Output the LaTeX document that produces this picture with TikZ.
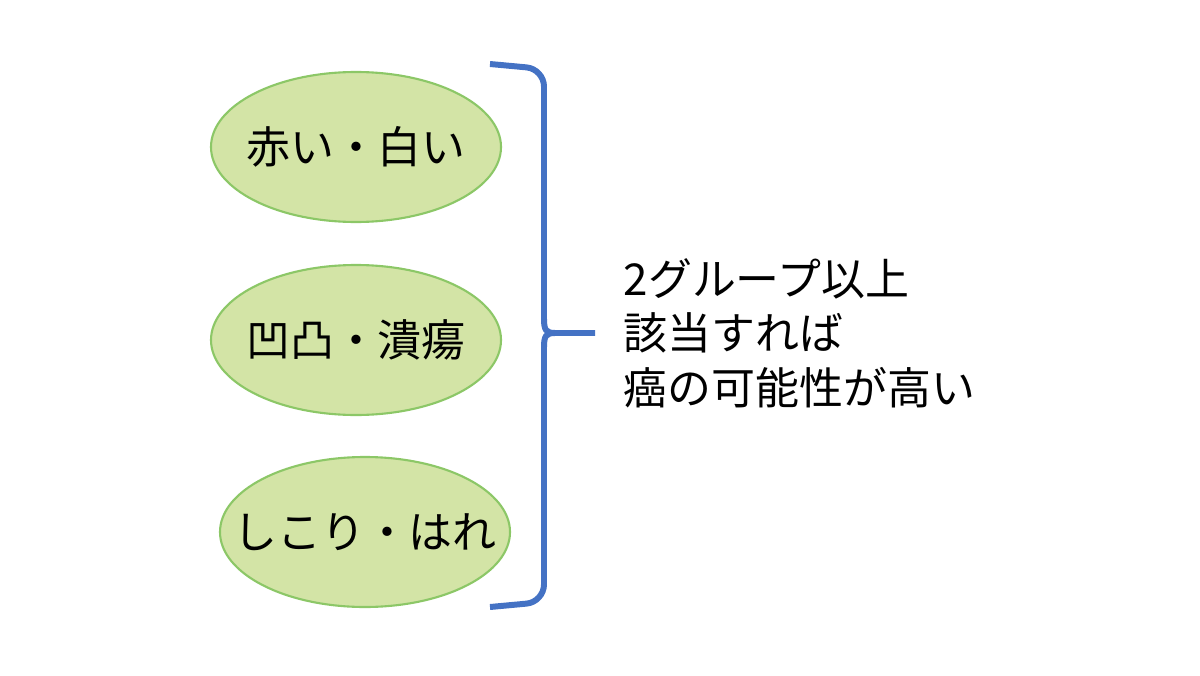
\documentclass[tikz,border=0pt]{standalone}
\usepackage{fontspec}
\setmainfont{Noto Sans CJK JP}
\usetikzlibrary{positioning}
\usetikzlibrary{shapes.geometric}

\definecolor{leaffill}{HTML}{D3E4A6}
\definecolor{leafline}{HTML}{8CC767}
\definecolor{braceblue}{HTML}{4472C4}

\begin{document}
\begin{tikzpicture}[
    sign/.style={ellipse, draw=leafline, fill=leaffill, line width=1.2pt,
        minimum width=5.8cm, minimum height=3.0cm, inner sep=0pt,
        label={[font=\fontsize{25}{30}\selectfont]center:#1}},
    brace/.style={draw=braceblue, line width=3.4pt, rounded corners=0.35cm}
]
    % Canvas
    \useasboundingbox (0,0) rectangle (24,13.5);

    % Symptom groups
    \node[sign={赤い・白い}] (red) at (7.12,10.56) {};
    \node[sign={凹凸・潰瘍}] (ulcer) at (7.12,6.70) {};
    \node[sign={しこり・はれ}] (lump) at (7.30,2.86) {};

    % Right brace
    \coordinate (btop) at (9.80,12.22);
    \coordinate (tip) at (11.90,6.84);
    \coordinate (bbot) at (9.80,1.36);
    \draw[brace] (btop) -- (10.88,12.12) -- (10.88,7.10);
    \draw[draw=braceblue, line width=3.4pt] (10.88,7.12)
        .. controls (10.88,6.90) and (10.92,6.84) .. (11.10,6.84) -- (tip);
    \draw[draw=braceblue, line width=3.4pt] (11.10,6.84)
        .. controls (10.92,6.84) and (10.88,6.78) .. (10.88,6.56);
    \draw[brace] (10.88,6.58) -- (10.88,1.46) -- (bbot);

    % Conclusion
    \node[right=0.45cm of tip, anchor=west, align=left,
        font=\fontsize{25}{31}\selectfont] (note)
        {2グループ以上\\該当すれば\\癌の可能性が高い};
\end{tikzpicture}
\end{document}
